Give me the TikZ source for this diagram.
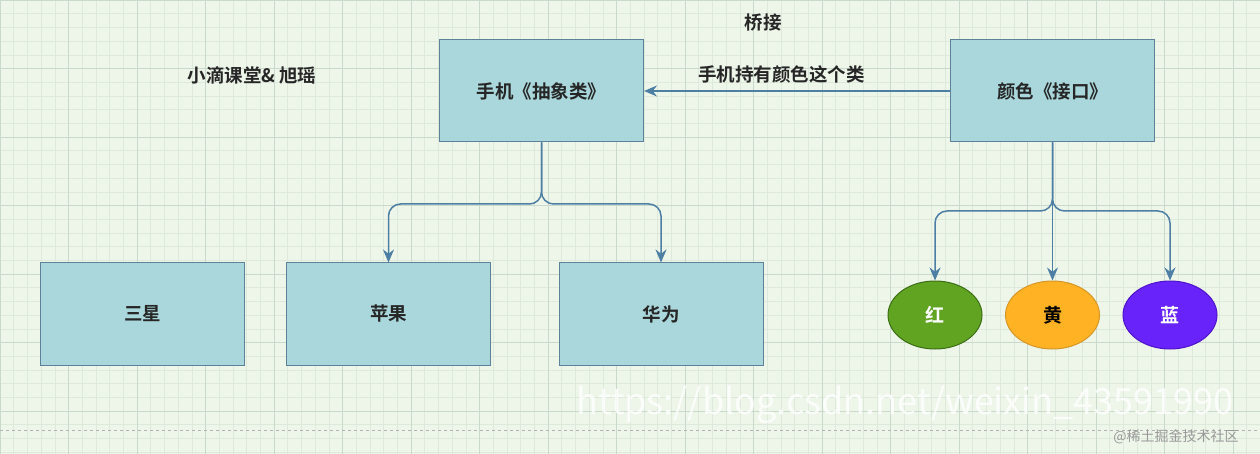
\documentclass[tikz,border=0pt]{standalone}
\usepackage{fontspec}
\setmainfont{Noto Sans CJK SC}[BoldFont={Noto Sans CJK SC Bold}]
\usetikzlibrary{arrows.meta,shapes.geometric}
\definecolor{bg}{HTML}{EEF6EA}
\definecolor{gmin}{HTML}{DDE9DA}
\definecolor{gmaj}{HTML}{C9D9CC}
\definecolor{boxf}{HTML}{A9D7DB}
\definecolor{boxd}{HTML}{5C8198}
\definecolor{arr}{HTML}{4D7EA3}
\begin{document}
\begin{tikzpicture}[x=1pt,y=1pt,
  box/.style={draw=boxd,fill=boxf,line width=1pt,minimum width=204pt,minimum height=102pt,font=\bfseries\fontsize{18.5}{18.5}\selectfont,text=black!85},
  ell/.style={ellipse,line width=1pt,minimum width=94pt,minimum height=68pt,font=\bfseries\fontsize{19}{19}\selectfont},
  con/.style={draw=arr,line width=1.5pt,rounded corners=12pt,-{Stealth[length=13pt,width=11pt]}},
  lab/.style={font=\bfseries\fontsize{18.5}{18.5}\selectfont,text=black!85}]
\fill[bg] (0,0) rectangle (1260,-454);
\useasboundingbox (0,0) rectangle (1260,-454);
\foreach \x in {0,13.7,...,1260} \draw[gmin,line width=0.5pt] (\x,0) -- (\x,-454);
\foreach \y in {0,13.7,...,454} \draw[gmin,line width=0.5pt] (0,-\y) -- (1260,-\y);
\foreach \x in {0,68.5,...,1260} \draw[gmaj,line width=0.8pt] (\x,0) -- (\x,-454);
\foreach \y in {0,68.5,...,454} \draw[gmaj,line width=0.8pt] (0,-\y) -- (1260,-\y);
\draw[gray!60,dashed,line width=0.8pt] (0,-430) -- (1260,-430);
\node[lab] (t) at (763,-23) {桥接};
\node[lab] (w) at (252,-75) {小滴课堂\& 旭瑶};
\node[box] (phone) at (541.5,-91) {手机《抽象类》};
\node[box] (color) at (1052.5,-91) {颜色《接口》};
\node[box] (sx) at (142.5,-314) {三星};
\node[box] (pg) at (388.5,-314) {苹果};
\node[box] (hw) at (661,-314) {华为};
\node[ell,draw={rgb,255:red,60;green,110;blue,20},fill={rgb,255:red,96;green,164;blue,34},text=white] (red) at (935,-315) {红};
\node[ell,draw={rgb,255:red,215;green,150;blue,40},fill={rgb,255:red,255;green,178;blue,36},text=black] (yel) at (1052.5,-315) {黄};
\node[ell,draw={rgb,255:red,80;green,20;blue,200},fill={rgb,255:red,104;green,34;blue,250},text=white] (blu) at (1170,-315) {蓝};
\draw[con] (color.west) -- node[lab,above=4pt,pos=0.55]{手机持有颜色这个类} (phone.east);
\draw[con] (phone.south) -- (541.5,-204) -| (pg.north);
\draw[con] (phone.south) -- (541.5,-204) -| (hw.north);
\draw[con] (color.south) -- (1052.5,-211) -| (red.north);
\draw[con] (color.south) -- (yel.north);
\draw[con] (color.south) -- (1052.5,-211) -| (blu.north);
\node[text=white,opacity=0.8,font=\fontsize{36}{36}\selectfont] (wm) at (905,-405) {https://blog.csdn.net/weixin\_43591990};
\node[text=gray!80,font=\fontsize{14}{14}\selectfont] (wm2) at (1176,-437) {@稀土掘金技术社区};
\end{tikzpicture}
\end{document}
